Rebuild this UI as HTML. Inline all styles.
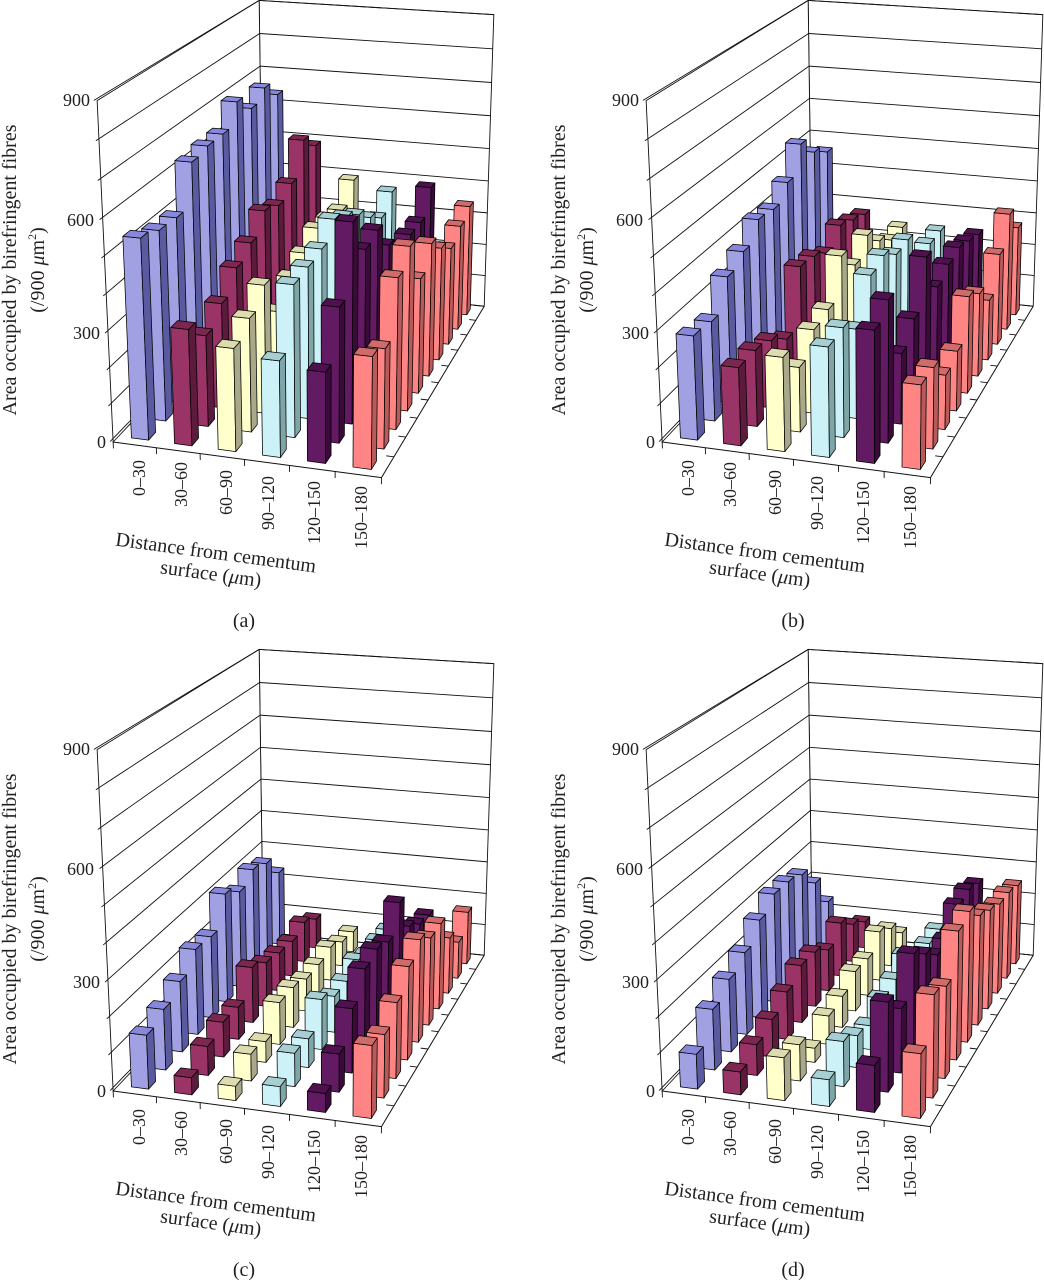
<!DOCTYPE html>
<html><head><meta charset="utf-8">
<style>
html,body{margin:0;padding:0;background:#fff;}
svg{display:block;}
text{font-family:"Liberation Serif","DejaVu Serif",serif;fill:#231f20;}
</style></head><body>
<svg id="s" width="1044" height="1280" viewBox="0 0 1044 1280" xmlns="http://www.w3.org/2000/svg">
<rect width="1044" height="1280" fill="#fff"/>

<g id="pa" transform="translate(0,0)">
<text x="90" y="106" text-anchor="end" font-size="18">900</text>
<text x="94" y="226" text-anchor="end" font-size="18">600</text>
<text x="100" y="339" text-anchor="end" font-size="18">300</text>
<text x="106" y="448" text-anchor="end" font-size="18">0</text>
<text transform="translate(16,270) rotate(-90)" text-anchor="middle" font-size="20">Area occupied by birefringent fibres</text>
<text transform="translate(44,270) rotate(-90)" text-anchor="middle" font-size="20">(/900 <tspan font-style="italic">μ</tspan>m<tspan font-size="12" dy="-8">2</tspan><tspan dy="8">)</tspan></text>
<text transform="translate(145,460) rotate(-90)" text-anchor="end" font-size="18">0–30</text>
<text transform="translate(187,462) rotate(-90)" text-anchor="end" font-size="18">30–60</text>
<text transform="translate(232,470) rotate(-90)" text-anchor="end" font-size="18">60–90</text>
<text transform="translate(274,476) rotate(-90)" text-anchor="end" font-size="18">90–120</text>
<text transform="translate(320,481) rotate(-90)" text-anchor="end" font-size="18">120–150</text>
<text transform="translate(367,486) rotate(-90)" text-anchor="end" font-size="18">150–180</text>
<text transform="translate(215,559) rotate(7.7)" text-anchor="middle" font-size="20">Distance from cementum</text>
<text transform="translate(210,580) rotate(7.7)" text-anchor="middle" font-size="20">surface (<tspan font-style="italic">μ</tspan>m)</text>
<text x="244" y="627" text-anchor="middle" font-size="20">(a)</text>
</g>

<g id="pb" transform="translate(549,0)">
<text x="90" y="106" text-anchor="end" font-size="18">900</text>
<text x="94" y="226" text-anchor="end" font-size="18">600</text>
<text x="100" y="339" text-anchor="end" font-size="18">300</text>
<text x="106" y="448" text-anchor="end" font-size="18">0</text>
<text transform="translate(16,270) rotate(-90)" text-anchor="middle" font-size="20">Area occupied by birefringent fibres</text>
<text transform="translate(44,270) rotate(-90)" text-anchor="middle" font-size="20">(/900 <tspan font-style="italic">μ</tspan>m<tspan font-size="12" dy="-8">2</tspan><tspan dy="8">)</tspan></text>
<text transform="translate(145,460) rotate(-90)" text-anchor="end" font-size="18">0–30</text>
<text transform="translate(187,462) rotate(-90)" text-anchor="end" font-size="18">30–60</text>
<text transform="translate(232,470) rotate(-90)" text-anchor="end" font-size="18">60–90</text>
<text transform="translate(274,476) rotate(-90)" text-anchor="end" font-size="18">90–120</text>
<text transform="translate(320,481) rotate(-90)" text-anchor="end" font-size="18">120–150</text>
<text transform="translate(367,486) rotate(-90)" text-anchor="end" font-size="18">150–180</text>
<text transform="translate(215,559) rotate(7.7)" text-anchor="middle" font-size="20">Distance from cementum</text>
<text transform="translate(210,580) rotate(7.7)" text-anchor="middle" font-size="20">surface (<tspan font-style="italic">μ</tspan>m)</text>
<text x="244" y="627" text-anchor="middle" font-size="20">(b)</text>
</g>

<g id="pc" transform="translate(0,649)">
<text x="90" y="106" text-anchor="end" font-size="18">900</text>
<text x="94" y="226" text-anchor="end" font-size="18">600</text>
<text x="100" y="339" text-anchor="end" font-size="18">300</text>
<text x="106" y="448" text-anchor="end" font-size="18">0</text>
<text transform="translate(16,270) rotate(-90)" text-anchor="middle" font-size="20">Area occupied by birefringent fibres</text>
<text transform="translate(44,270) rotate(-90)" text-anchor="middle" font-size="20">(/900 <tspan font-style="italic">μ</tspan>m<tspan font-size="12" dy="-8">2</tspan><tspan dy="8">)</tspan></text>
<text transform="translate(145,460) rotate(-90)" text-anchor="end" font-size="18">0–30</text>
<text transform="translate(187,462) rotate(-90)" text-anchor="end" font-size="18">30–60</text>
<text transform="translate(232,470) rotate(-90)" text-anchor="end" font-size="18">60–90</text>
<text transform="translate(274,476) rotate(-90)" text-anchor="end" font-size="18">90–120</text>
<text transform="translate(320,481) rotate(-90)" text-anchor="end" font-size="18">120–150</text>
<text transform="translate(367,486) rotate(-90)" text-anchor="end" font-size="18">150–180</text>
<text transform="translate(215,559) rotate(7.7)" text-anchor="middle" font-size="20">Distance from cementum</text>
<text transform="translate(210,580) rotate(7.7)" text-anchor="middle" font-size="20">surface (<tspan font-style="italic">μ</tspan>m)</text>
<text x="244" y="627" text-anchor="middle" font-size="20">(c)</text>
</g>

<g id="pd" transform="translate(549,649)">
<text x="90" y="106" text-anchor="end" font-size="18">900</text>
<text x="94" y="226" text-anchor="end" font-size="18">600</text>
<text x="100" y="339" text-anchor="end" font-size="18">300</text>
<text x="106" y="448" text-anchor="end" font-size="18">0</text>
<text transform="translate(16,270) rotate(-90)" text-anchor="middle" font-size="20">Area occupied by birefringent fibres</text>
<text transform="translate(44,270) rotate(-90)" text-anchor="middle" font-size="20">(/900 <tspan font-style="italic">μ</tspan>m<tspan font-size="12" dy="-8">2</tspan><tspan dy="8">)</tspan></text>
<text transform="translate(145,460) rotate(-90)" text-anchor="end" font-size="18">0–30</text>
<text transform="translate(187,462) rotate(-90)" text-anchor="end" font-size="18">30–60</text>
<text transform="translate(232,470) rotate(-90)" text-anchor="end" font-size="18">60–90</text>
<text transform="translate(274,476) rotate(-90)" text-anchor="end" font-size="18">90–120</text>
<text transform="translate(320,481) rotate(-90)" text-anchor="end" font-size="18">120–150</text>
<text transform="translate(367,486) rotate(-90)" text-anchor="end" font-size="18">150–180</text>
<text transform="translate(215,559) rotate(7.7)" text-anchor="middle" font-size="20">Distance from cementum</text>
<text transform="translate(210,580) rotate(7.7)" text-anchor="middle" font-size="20">surface (<tspan font-style="italic">μ</tspan>m)</text>
<text x="244" y="627" text-anchor="middle" font-size="20">(d)</text>
</g>
</svg>

<script>
(function(){
var NS="http://www.w3.org/2000/svg";
// correspondences: X, Z, Y, u, v (panel a coordinates)
var C=[
[0,0,0,114,442],[6,0,0,383,478],[6,10,0,486,306],[0,0,900,98,100],[0,0,300,106,333],[0,0,600,102,220],
[0,10,900,259,1],[6,10,900,494,15],[6,10,400,489,180],[6,5,0,433,383],[3,0,0,247,460],
[0,10,0,null,283],[0,10,450,null,146]];
function fit(){
  var rows=[],rhs=[],k,i,j,r,c;
  for(k=0;k<C.length;k++){
    var X=C[k][0],Z=C[k][1],Y=C[k][2],u=C[k][3],v=C[k][4];
    var x=X/6,y=Y/900,z=Z/10;
    if(u!==null){var uu=u/500;rows.push([x,y,z,1,0,0,0,0,-uu*x,-uu*y,-uu*z]);rhs.push(uu);}
    if(v!==null){var vv=v/500;rows.push([0,0,0,0,x,y,z,1,-vv*x,-vv*y,-vv*z]);rhs.push(vv);}
  }
  var n=11,M=[];
  for(i=0;i<n;i++){M.push([]);for(j=0;j<=n;j++)M[i].push(0);}
  for(r=0;r<rows.length;r++){for(i=0;i<n;i++){for(j=0;j<n;j++)M[i][j]+=rows[r][i]*rows[r][j];M[i][n]+=rows[r][i]*rhs[r];}}
  for(c=0;c<n;c++){
    var p=c;for(r=c+1;r<n;r++)if(Math.abs(M[r][c])>Math.abs(M[p][c]))p=r;
    var t=M[c];M[c]=M[p];M[p]=t;
    for(r=0;r<n;r++){if(r===c)continue;var f=M[r][c]/M[c][c];for(k=c;k<=n;k++)M[r][k]-=f*M[c][k];}
  }
  var out=[];for(i=0;i<n;i++)out.push(M[i][n]/M[i][i]);return out;
}
var p=fit();
function P(X,Z,Y){var x=X/6,y=Y/900,z=Z/10;var w=p[8]*x+p[9]*y+p[10]*z+1;
  return [500*(p[0]*x+p[1]*y+p[2]*z+p[3])/w,500*(p[4]*x+p[5]*y+p[6]*z+p[7])/w,w];}
function el(tag,attrs,parent){var e=document.createElementNS(NS,tag);for(var a in attrs)e.setAttribute(a,attrs[a]);parent.appendChild(e);return e;}
function pts(a){return a.map(function(q){return q[0].toFixed(2)+","+q[1].toFixed(2);}).join(" ");}
function line(a,b,g,w){el("line",{x1:a[0].toFixed(2),y1:a[1].toFixed(2),x2:b[0].toFixed(2),y2:b[1].toFixed(2),stroke:"#111","stroke-width":w||0.9},g);}
function area(a){var s=0;for(var i=0;i<a.length;i++){var b=a[(i+1)%a.length];s+=a[i][0]*b[1]-b[0]*a[i][1];}return s;}

var COL=[
 {f:'#a0a0e2',s:'#5a5aa0',t:'#8787dc'},
 {f:'#9a3366',s:'#5c1b3d',t:'#7c2650'},
 {f:'#ffffcc',s:'#a9a98a',t:'#dcdcae'},
 {f:'#ccf2f8',s:'#7ea6a8',t:'#a6cfd3'},
 {f:'#621a62',s:'#3b0a3b',t:'#4e104e'},
 {f:'#ff8585',s:'#b85a5a',t:'#cf6b6b'}];

var H={
pa:[[555,535,530,645,655,655,715,665,695,645],[326,262,305,362,392,445,422,451,547,497],[289,323,369,250,305,333,366,357,343,399],[270,427,431,439,482,450,417,370,330,373],[254,380,564,450,462,380,290,330,327,397],[310,282,427,470,338,396,342,300,327,349]],
pb:[[295,287,367,396,447,438,480,559,501,467],[223,221,200,157,323,311,279,324,301,280],[265,188,245,256,366,298,345,288,250,250],[307,311,260,366,379,341,343,250,250,250],[365,399,206,256,387,258,282,291,270,250],[235,231,160,178,287,251,187,282,364,283]],
pc:[[157,179,210,256,249,333,299,327,307,239],[54,89,107,101,171,139,124,115,132,100],[46,82,66,129,125,103,101,110,82,71],[61,100,89,152,113,110,129,100,100,90],[58,113,189,253,264,240,314,200,164,150],[204,182,220,273,304,265,264,177,120,171]],
pd:[[104,179,216,247,298,333,329,311,246,145],[70,94,115,146,177,171,133,173,126,91],[125,109,47,90,99,126,119,158,125,68],[80,133,98,76,107,116,144,100,90,92],[135,256,189,296,250,202,204,267,272,250],[182,290,265,372,384,330,303,280,274,255]]};

function draw(id){
  var host=document.getElementById(id);
  var g=document.createElementNS(NS,"g");host.insertBefore(g,host.firstChild);
  // walls
  el("polygon",{points:pts([P(0,10,0),P(6,10,0),P(6,10,900),P(0,10,900)]),fill:"#fff",stroke:"#111","stroke-width":0.9},g);
  el("polygon",{points:pts([P(0,0,0),P(0,10,0),P(0,10,900),P(0,0,900)]),fill:"#fff",stroke:"#111","stroke-width":0.9},g);
  var Y;
  for(Y=0;Y<=900;Y+=100){
    line(P(-0.07,0,Y),P(0,10,Y),g);
    line(P(0,10,Y),P(6,10,Y),g);
  }
  // floor edges
  line(P(0,0,0),P(6,0,0),g,1);
  line(P(6,0,0),P(6,10,0),g,1);
  var X,Z;
  for(X=0;X<=6;X++)line(P(X,0,0),P(X,0,-18),g);
  for(Z=1;Z<10;Z++)line(P(6,Z,0),P(5.83,Z,0),g);
  // bars
  var data=H[id];
  for(var j=9;j>=0;j--){
    var order=[0,1,2,3,4,5].sort(function(a,b){return P(b+0.5,j+0.5,0)[2]-P(a+0.5,j+0.5,0)[2];});
    for(var oi=0;oi<6;oi++){
      var i=order[oi];var h=Math.max(8,data[i][j]-6);
      var x0=i+0.3,x1=i+0.7,z0=j+0.3,z1=j+0.7;var col=COL[i];
      var faces=[
        [[P(x0,z0,0),P(x1,z0,0),P(x1,z0,h),P(x0,z0,h)],col.f],
        [[P(x1,z1,0),P(x0,z1,0),P(x0,z1,h),P(x1,z1,h)],col.f],
        [[P(x1,z0,0),P(x1,z1,0),P(x1,z1,h),P(x1,z0,h)],col.s],
        [[P(x0,z1,0),P(x0,z0,0),P(x0,z0,h),P(x0,z1,h)],col.s],
        [[P(x0,z0,h),P(x1,z0,h),P(x1,z1,h),P(x0,z1,h)],col.t]];
      for(var fi=0;fi<faces.length;fi++){
        var poly=faces[fi][0];
        if(area(poly)<0){
          el("polygon",{points:pts(poly),fill:faces[fi][1],stroke:"#000","stroke-width":0.75,"stroke-linejoin":"round"},g);
        }
      }
    }
  }
}
["pa","pb","pc","pd"].forEach(draw);
})();
</script>
</body></html>
